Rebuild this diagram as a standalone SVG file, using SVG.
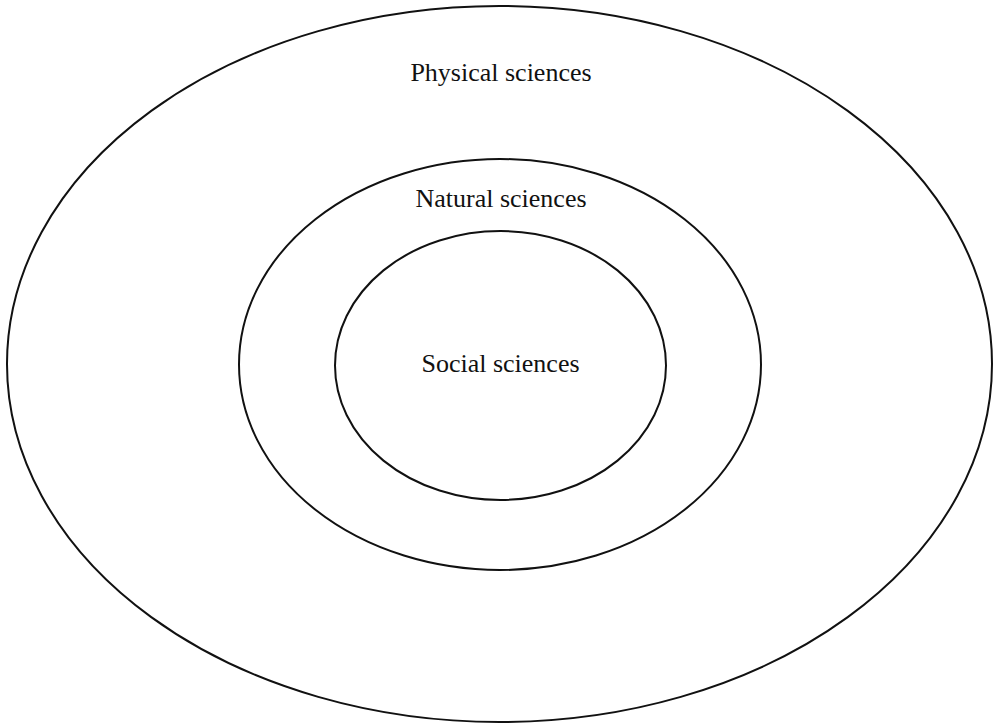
<svg xmlns="http://www.w3.org/2000/svg" width="999" height="725" viewBox="0 0 999 725">
  <style>
    .ring { fill: none; stroke: #111; stroke-width: 2; }
    .label { font-family: "Liberation Serif", "Times New Roman", serif; font-size: 26px; fill: #111; text-anchor: middle; }
  </style>
  <rect width="999" height="725" fill="#fff"/>
  <g id="physical">
    <ellipse class="ring" cx="499.5" cy="364" rx="492.5" ry="358"/>
    <text class="label" x="501" y="81">Physical sciences</text>
  </g>
  <g id="natural">
    <ellipse class="ring" cx="500" cy="364.5" rx="261" ry="205.5"/>
    <text class="label" x="501" y="207">Natural sciences</text>
  </g>
  <g id="social">
    <ellipse class="ring" cx="500.5" cy="365.5" rx="165.5" ry="134.5"/>
    <text class="label" x="500.5" y="372">Social sciences</text>
  </g>
  <g id="connectors"/>
</svg>
